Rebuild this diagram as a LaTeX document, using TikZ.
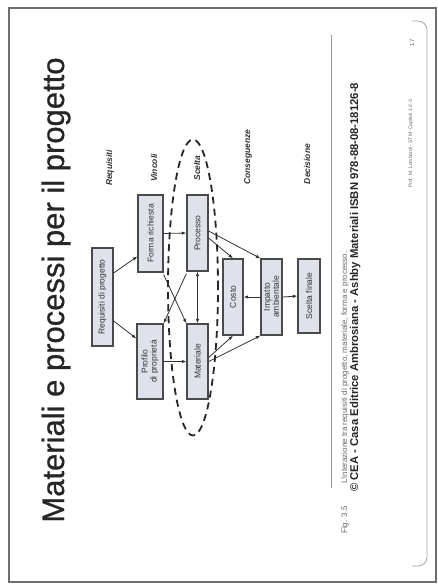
\documentclass[tikz,border=0pt]{standalone}
\usepackage{fontspec}
\setmainfont{Liberation Sans}
\usetikzlibrary{arrows.meta,calc}
\definecolor{boxfill}{HTML}{DFE2EA}
\definecolor{boxdraw}{HTML}{4A4A4A}
\definecolor{ink}{HTML}{333333}
\definecolor{framec}{HTML}{6E6E6E}
\definecolor{capgray}{HTML}{6A6A6A}
\begin{document}
\begin{tikzpicture}[x=1pt,y=-1pt,
  box/.style={draw=boxdraw, fill=boxfill, line width=1.3pt, rotate=90, inner sep=0pt,
    align=center, text=ink, font=\fontsize{8.5}{9}\selectfont},
  conn/.style={draw=ink, line width=0.8pt, -{Latex[length=4.5pt,width=3.5pt]}},
  dconn/.style={draw=ink, line width=0.8pt, {Latex[length=4.5pt,width=3.5pt]}-{Latex[length=4.5pt,width=3.5pt]}},
  lab/.style={rotate=90, anchor=base, inner sep=0pt, font=\fontsize{8.5}{9}\selectfont\bfseries\itshape, text=ink},
  rtext/.style={rotate=90, inner sep=0pt}
]
\useasboundingbox (0,0) rectangle (438,585);
\fill[white] (0,0) rectangle (438,585);
% frames
\draw[framec, line width=1.6pt] (9,8) rectangle (436,582);
\draw[gray!70, line width=0.8pt] (412,21) -- (418,21) arc[start angle=90, end angle=0, radius=9pt] -- (427,557) arc[start angle=0, end angle=-90, radius=9pt] -- (412,566);

% title
\node[rtext, anchor=base, font=\fontsize{31}{31}\selectfont\addfontfeature{FakeBold=0.8}, text=black!85] (title) at (64,290) {Materiali e processi per il progetto};

% column labels
\node[lab] (l1) at (112,168) {Requisiti};
\node[lab] (l2) at (157,168) {Vincoli};
\node[lab] (l3) at (200,168) {Scelta};
\node[lab] (l4) at (250,157) {Conseguenze};
\node[lab] (l5) at (310,164) {Decisione};

% boxes
\node[box, minimum width=98pt, minimum height=21pt] (req) at (102.5,297) {Requisiti di progetto};
\node[box, minimum width=77pt, minimum height=25pt] (forma) at (150.5,233.5) {Forma richiesta};
\node[box, minimum width=75pt, minimum height=26pt] (prof) at (150,361.5) {Profilo\\di propriet\`a};
\node[box, minimum width=76pt, minimum height=21pt] (proc) at (197.5,233) {Processo};
\node[box, minimum width=75pt, minimum height=21pt] (mat) at (197.5,361.5) {Materiale};
\node[box, minimum width=76pt, minimum height=20pt] (costo) at (233,297) {Costo};
\node[box, minimum width=76pt, minimum height=21pt] (imp) at (271.5,297) {Impatto\\ambientale};
\node[box, minimum width=74pt, minimum height=22pt] (scelta) at (309,296) {Scelta finale};

% dashed ellipse
\draw[black!85, line width=1.8pt, dash pattern=on 7pt off 5pt] (193,287.5) ellipse [x radius=25pt, y radius=148pt];

% connectors
\draw[conn] ($(req.south)+(0,-24)$) -- ($(forma.north)+(0,23)$);
\draw[conn] ($(req.south)+(0,24)$) -- ($(prof.north)+(0,-23)$);
\draw[conn] (forma.south) -- (proc.north);
\draw[conn] (prof.south) -- (mat.north);
\draw[conn] ($(forma.south west)+(0,2)$) -- (mat.north east);
\draw[conn] ($(proc.north west)+(0,2)$) -- (prof.south east);
\draw[dconn] (proc.west) -- (mat.east);
\draw[conn] ($(proc.south)+(0,5)$) -- (costo.east);
\draw[conn] ($(proc.south)+(0,-2)$) -- (imp.north east);
\draw[conn] ($(mat.south)+(0,-4)$) -- (costo.west);
\draw[conn] (mat.south) -- (imp.north west);
\draw[conn] (imp.north) -- (costo.south);
\draw[conn] (imp.south) -- (scelta.north);

% caption rule
\draw[gray!80, line width=0.8pt] (331,35) coordinate (r1) -- (331,488) coordinate (r2);

% caption
\node[rtext, anchor=base, font=\fontsize{8}{8}\selectfont, text=capgray] (fig) at (347,520) {Fig. 3.5};
\node[rtext, anchor=base west, font=\fontsize{8}{8}\selectfont, text=capgray] (cap1) at (347,484) {L'interazione tra requisiti di progetto, materiale, forma e processo.};
\node[rtext, anchor=base west, font=\fontsize{11.3}{11.3}\selectfont\bfseries, text=black!85] (cap2) at (358,492) {\textcopyright{} CEA - Casa Editrice Ambrosiana - Ashby Materiali ISBN 978-88-08-18126-8};

% footer
\node[rtext, anchor=base, font=\fontsize{5}{5}\selectfont, text=capgray] (foot) at (412,144) {Prof. M. Lombardi - STM -Capitoli 1-2-3};
\node[rtext, anchor=base, font=\fontsize{6}{6}\selectfont, text=capgray] (pg) at (414,43) {17};
\end{tikzpicture}
\end{document}
